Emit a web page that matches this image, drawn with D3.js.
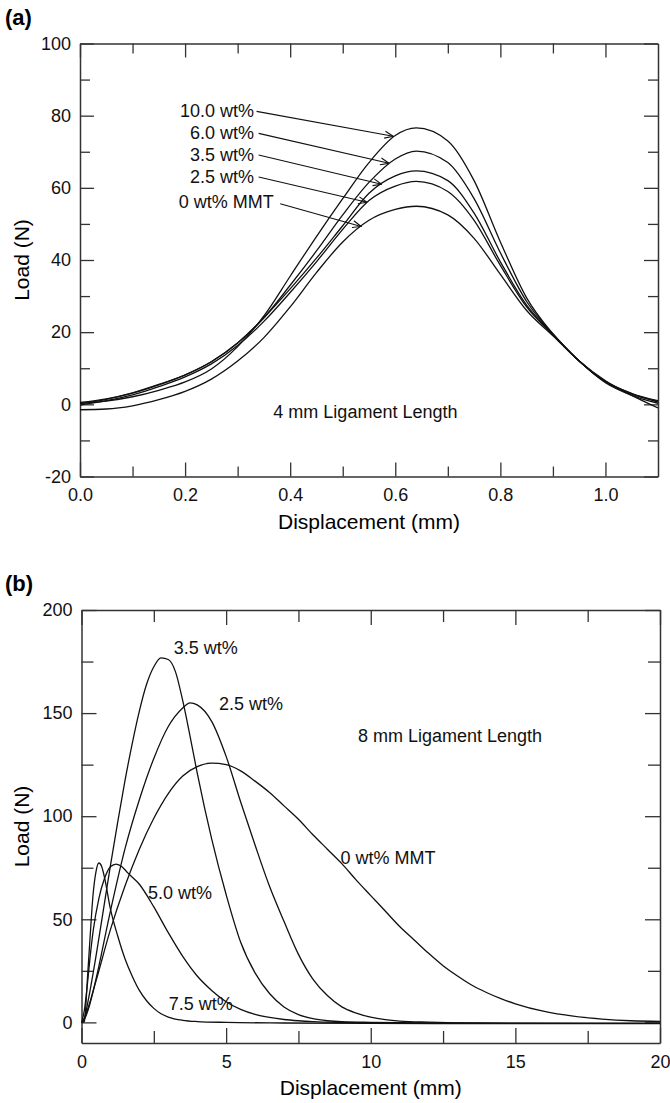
<!DOCTYPE html>
<html>
<head>
<meta charset="utf-8">
<script src="https://cdn.jsdelivr.net/npm/d3@7"></script>
<style>
  body { margin: 0; background: #fff; }
  text { font-family: "Liberation Sans", Arial, Helvetica, sans-serif; }
</style>
</head>
<body>
<div id="chart"></div>
<script>
//Data

//(a) 4 mm ligament, displacement in mm
var dispA = [0, 0.05, 0.1, 0.15, 0.2, 0.25, 0.3, 0.35, 0.4, 0.45, 0.5, 0.55, 0.6, 0.64, 0.7, 0.75, 0.8, 0.85, 0.9, 0.95, 1.0, 1.05, 1.1];
var loadA100 = [0.3, 0.9, 2.1, 3.9, 6.2, 9.8, 16, 24.5, 35.5, 46.5, 57, 67, 74.5, 76.6, 73, 62, 45, 29.5, 19.5, 12, 6, 2.5, 0.3];
var loadA60 = [0.5, 1.5, 3.2, 5.5, 8.2, 11.8, 17, 24, 33, 42.5, 52.5, 61.5, 68, 70.2, 67, 57, 42, 28.5, 19.5, 12, 6.2, 2.8, 0.8];
var loadA35 = [0.2, 1.4, 3.1, 5.4, 8.1, 11.8, 17, 24, 32, 40.5, 49.5, 58.5, 63.3, 64.7, 62, 53, 39.5, 27.5, 19.5, 12, 6.3, 3, 1];
var loadA25 = [-0.2, 1.0, 2.6, 4.9, 7.6, 11.2, 16.3, 23, 31, 39.5, 48.5, 56.5, 60.5, 61.8, 59, 51, 38.5, 27, 19.3, 12, 6.4, 3, 0.6];
var loadA0 = [-1.5, -1.3, -0.4, 1.3, 3.6, 7, 12, 18.5, 27, 36.5, 45, 51, 54, 54.9, 52.5, 46, 36, 26, 19, 12, 6.5, 2.5, -1];

//(b) 8 mm ligament
var dispB75 = [0, 0.1, 0.15, 0.2, 0.3, 0.4, 0.5, 0.6, 0.7, 0.8, 1.0, 1.25, 1.5, 1.75, 2.0, 2.25, 2.5, 2.75, 3.0, 3.5, 4.0, 5.0, 7.0, 10, 15, 20];
var loadB75 = [0, 0.5, 8, 20, 42, 62, 73, 77.3, 75.5, 70, 55, 42, 31, 22.5, 15.5, 10.5, 6.8, 4.2, 2.6, 1.0, 0.4, 0, -0.3, -0.5, -0.6, -0.6];

var dispB50 = [0, 0.1, 0.2, 0.3, 0.4, 0.6, 0.8, 1.0, 1.2, 1.4, 1.6, 2.0, 2.5, 3.0, 3.5, 4.0, 4.5, 5.0, 5.5, 6.0, 6.5, 7.0, 7.5, 8.0, 9.0, 10, 12, 15, 20];
var loadB50 = [0, 6, 18, 32, 44, 60, 70, 75.5, 76.8, 75.5, 72.5, 67, 56, 43.5, 32, 22.5, 15.5, 10, 6.3, 3.9, 2.4, 1.4, 0.8, 0.4, 0, -0.2, -0.4, -0.5, -0.5];

var dispB35 = [0, 0.1, 0.25, 0.5, 0.75, 1.0, 1.25, 1.5, 1.75, 2.0, 2.25, 2.5, 2.75, 3.0, 3.25, 3.5, 3.75, 4.0, 4.5, 5.0, 5.5, 6.0, 6.5, 7.0, 7.5, 8.0, 8.5, 9.0, 10, 12, 15, 20];
var loadB35 = [0, 2, 12, 32, 54, 76, 97, 117, 135, 151, 164, 172.5, 176.8, 176, 170, 156, 139, 121, 89, 62, 39, 24, 14, 7.5, 3.8, 1.8, 0.8, 0.3, 0, -0.3, -0.5, -0.5];

var dispB25 = [0, 0.1, 0.25, 0.5, 1.0, 1.5, 2.0, 2.5, 3.0, 3.5, 3.75, 4.0, 4.5, 5.0, 5.5, 6.0, 6.5, 7.0, 7.5, 8.0, 8.5, 9.0, 9.5, 10, 10.5, 11, 12, 13, 15, 20];
var loadB25 = [0, 1.5, 7, 21, 54, 84, 108, 128, 143.5, 152.5, 155, 154, 146, 129, 107, 86, 66, 49, 33, 21, 13, 7.5, 4.5, 2.5, 1.3, 0.6, 0.1, -0.2, -0.4, -0.5];

var dispB0 = [0, 0.1, 0.25, 0.5, 1.0, 1.5, 2.0, 2.5, 3.0, 3.5, 4.0, 4.5, 5.0, 5.5, 6.0, 6.5, 7.0, 7.5, 8.0, 8.5, 9.0, 9.5, 10, 10.5, 11, 11.5, 12, 12.5, 13, 13.5, 14, 14.5, 15, 16, 17, 18, 19, 20];
var loadB0 = [0, 2, 8, 20, 45, 66, 84, 99, 111, 119.5, 124, 125.7, 125, 122, 117, 111.5, 105, 98.5, 91, 84, 77, 69, 61.5, 54, 46.5, 40, 33.5, 27.5, 22.5, 18, 14.5, 11.5, 9, 5.3, 3, 1.6, 0.8, 0.5];

//Tick values
var xMajorA = [0, 0.2, 0.4, 0.6, 0.8, 1.0];
var xMinorA = [0.1, 0.3, 0.5, 0.7, 0.9];
var yMajorA = [-20, 0, 20, 40, 60, 80, 100];
var yMinorA = [-10, 10, 30, 50, 70, 90];
var xMajorB = [0, 5, 10, 15, 20];
var xMinorB = [2.5, 7.5, 12.5, 17.5];
var yMajorB = [0, 50, 100, 150, 200];
var yMinorB = [25, 75, 125, 175];

//Set up svg
var svgWidth = 670;
var svgHeight = 1103;

var svg = d3.select("#chart").append("svg")
    .attr("width", svgWidth)
    .attr("height", svgHeight);

var defs = svg.append("defs");
defs.append("marker")
    .attr("id", "arrow")
    .attr("viewBox", "0 0 10 10")
    .attr("refX", 9.5)
    .attr("refY", 5)
    .attr("markerWidth", 10)
    .attr("markerHeight", 10)
    .attr("markerUnits", "userSpaceOnUse")
    .attr("orient", "auto")
    .append("path")
    .attr("d", "M1,1.5 L9.5,5 L1,8.5")
    .attr("fill", "none")
    .attr("stroke", "#111")
    .attr("stroke-width", 1.1);

//style an axis group after the call
function styleAxis(a, keepDomain) {
    a.attr("font-family", null).attr("font-size", null);
    if (keepDomain) {
        a.select(".domain").attr("stroke", "#333").attr("stroke-width", 1.5);
    } else {
        a.select(".domain").remove();
    }
    a.selectAll(".tick line").attr("stroke", "#333").attr("stroke-width", 1.3);
    a.selectAll(".tick text").attr("fill", "#111").style("font-size", "18px");
    return a;
}

function drawPanel(cfg) {
    var w = cfg.right - cfg.left;
    var h = cfg.bottom - cfg.top;
    var g = svg.append("g").attr("transform", `translate(${cfg.left}, ${cfg.top})`);

    var x = d3.scaleLinear().domain(cfg.xDomain).range([0, w]);
    var y = d3.scaleLinear().domain(cfg.yDomain).range([h, 0]);

    //bottom axis with labels
    styleAxis(g.append("g").attr("transform", `translate(0, ${h})`)
        .call(d3.axisBottom(x).tickValues(cfg.xMajor).tickSize(-cfg.major).tickSizeOuter(0)
            .tickPadding(12).tickFormat(cfg.xFormat)), true);
    styleAxis(g.append("g").attr("transform", `translate(0, ${h})`)
        .call(d3.axisBottom(x).tickValues(cfg.xMinor).tickSize(-cfg.minor).tickSizeOuter(0).tickFormat("")), false);
    //top axis
    styleAxis(g.append("g")
        .call(d3.axisTop(x).tickValues(cfg.xMajor).tickSize(-cfg.major).tickSizeOuter(0).tickFormat("")), true);
    styleAxis(g.append("g")
        .call(d3.axisTop(x).tickValues(cfg.xMinor).tickSize(-cfg.minor).tickSizeOuter(0).tickFormat("")), false);
    //left axis with labels
    styleAxis(g.append("g")
        .call(d3.axisLeft(y).tickValues(cfg.yMajor).tickSize(-cfg.major).tickSizeOuter(0)
            .tickPadding(9).tickFormat(d => String(d))), true);
    styleAxis(g.append("g")
        .call(d3.axisLeft(y).tickValues(cfg.yMinor).tickSize(-cfg.minor).tickSizeOuter(0).tickFormat("")), false);
    //right axis
    styleAxis(g.append("g").attr("transform", `translate(${w}, 0)`)
        .call(d3.axisRight(y).tickValues(cfg.yMajor).tickSize(-cfg.major).tickSizeOuter(0).tickFormat("")), true);
    styleAxis(g.append("g").attr("transform", `translate(${w}, 0)`)
        .call(d3.axisRight(y).tickValues(cfg.yMinor).tickSize(-cfg.minor).tickSizeOuter(0).tickFormat("")), false);

    //clip for curves
    g.append("clipPath").attr("id", cfg.id + "clip")
        .append("rect").attr("width", w).attr("height", h);

    //axis titles
    g.append("text")
        .attr("x", w / 2)
        .attr("y", h + 52)
        .attr("text-anchor", "middle")
        .style("font-size", "21px")
        .text("Displacement (mm)");

    g.append("text")
        .attr("transform", `translate(${29 - cfg.left}, ${h / 2}) rotate(-90)`)
        .attr("text-anchor", "middle")
        .style("font-size", "21px")
        .text("Load (N)");

    //panel letter
    svg.append("text")
        .attr("x", 5)
        .attr("y", cfg.top - 19)
        .style("font-size", "22px")
        .style("font-weight", "bold")
        .text(cfg.letter);

    return { g: g, x: x, y: y, w: w, h: h, id: cfg.id };
}

function drawCurve(p, xs, ys) {
    var pts = xs.map((d, i) => [d, ys[i]]);
    var line = d3.line()
        .x(d => p.x(d[0]))
        .y(d => p.y(d[1]))
        .curve(d3.curveMonotoneX);
    p.g.append("path")
        .datum(pts)
        .attr("clip-path", `url(#${p.id}clip)`)
        .attr("fill", "none")
        .attr("stroke", "#111")
        .attr("stroke-width", 1.3)
        .attr("d", line);
}

function addLabel(p, text, xv, yv, anchor) {
    p.g.append("text")
        .attr("x", p.x(xv))
        .attr("y", p.y(yv))
        .attr("text-anchor", anchor || "start")
        .style("font-size", "18px")
        .attr("fill", "#111")
        .text(text);
}

//Panel (a)
var pa = drawPanel({
    id: "a", letter: "(a)",
    left: 80, right: 658, top: 43.5, bottom: 476.5,
    xDomain: [0, 1.1], yDomain: [-20, 100],
    xMajor: xMajorA, xMinor: xMinorA, yMajor: yMajorA, yMinor: yMinorA,
    xFormat: d3.format(".1f"), major: 14, minor: 10
});

[loadA100, loadA60, loadA35, loadA25, loadA0].forEach(function(s) {
    drawCurve(pa, dispA, s);
});

//labels with arrows (a)
var labelsA = ["10.0 wt%", "6.0 wt%", "3.5 wt%", "2.5 wt%"];
var labelYA = [79.5, 73.4, 67.3, 61.3];
var arrowFromA = [[0.336, 81.2], [0.340, 75.1], [0.340, 69.1], [0.340, 63.0], [0.381, 55.6]];
var arrowToA = [[0.596, 74.3], [0.588, 66.8], [0.574, 61.0], [0.546, 56.0], [0.535, 49.3]];

labelsA.forEach(function(t, i) {
    addLabel(pa, t, 0.331, labelYA[i], "end");
});
addLabel(pa, "0 wt% MMT", 0.188, 54.5, "start");

arrowFromA.forEach(function(s, i) {
    pa.g.append("line")
        .attr("x1", pa.x(s[0]))
        .attr("y1", pa.y(s[1]))
        .attr("x2", pa.x(arrowToA[i][0]))
        .attr("y2", pa.y(arrowToA[i][1]))
        .attr("stroke", "#111")
        .attr("stroke-width", 1.1)
        .attr("marker-end", "url(#arrow)");
});

addLabel(pa, "4 mm Ligament Length", 0.368, -3.8, "start");

//Panel (b)
var pb = drawPanel({
    id: "b", letter: "(b)",
    left: 81.5, right: 660, top: 610, bottom: 1043,
    xDomain: [0, 20], yDomain: [-10, 200],
    xMajor: xMajorB, xMinor: xMinorB, yMajor: yMajorB, yMinor: yMinorB,
    xFormat: d => String(d), major: 15, minor: 12
});

drawCurve(pb, dispB0, loadB0);
drawCurve(pb, dispB25, loadB25);
drawCurve(pb, dispB35, loadB35);
drawCurve(pb, dispB50, loadB50);
drawCurve(pb, dispB75, loadB75);

addLabel(pb, "3.5 wt%", 3.19, 178.7);
addLabel(pb, "2.5 wt%", 4.75, 151.6);
addLabel(pb, "8 mm Ligament Length", 9.56, 136.2);
addLabel(pb, "0 wt% MMT", 8.95, 76.9);
addLabel(pb, "5.0 wt%", 2.30, 60);
addLabel(pb, "7.5 wt%", 3.02, 6.2);
</script>
</body>
</html>
